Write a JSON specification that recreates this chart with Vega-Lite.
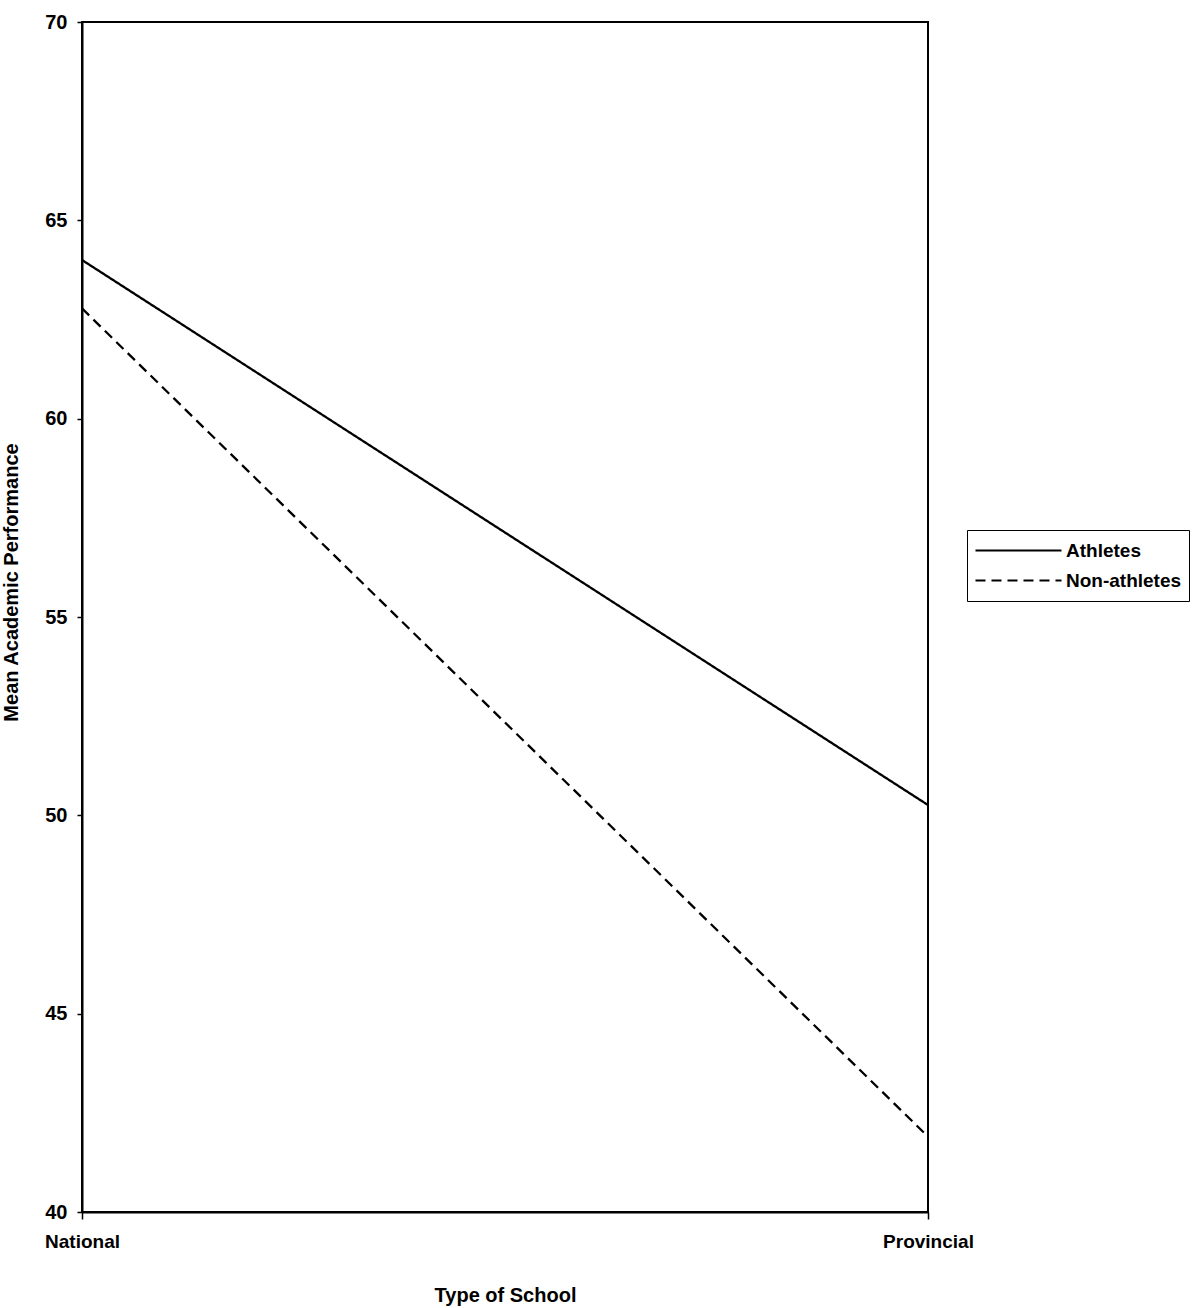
{
  "$schema": "https://vega.github.io/schema/vega-lite/v6.json",
  "autosize": "none",
  "width": 846,
  "height": 1190,
  "padding": {"left": 82, "top": 22, "right": 269, "bottom": 96},
  "background": "white",
  "config": {
    "font": "Liberation Sans",
    "view": {"stroke": "black", "strokeWidth": 2}
  },
  "data": {
    "values": [
      {"school": "National", "group": "Athletes", "mean": 64.0},
      {"school": "Provincial", "group": "Athletes", "mean": 50.26},
      {"school": "National", "group": "Non-athletes", "mean": 62.78},
      {"school": "Provincial", "group": "Non-athletes", "mean": 41.9}
    ]
  },
  "mark": {"type": "line", "color": "black", "strokeWidth": 2.3},
  "encoding": {
    "x": {
      "field": "school",
      "type": "nominal",
      "scale": {"type": "point", "padding": 0},
      "axis": {
        "title": "Type of School",
        "titleFontSize": 20,
        "titleFontWeight": "bold",
        "titleColor": "black",
        "titlePadding": 34,
        "labelAngle": 0,
        "labelFontSize": 19,
        "labelFontWeight": "bold",
        "labelColor": "black",
        "labelPadding": 13,
        "domainColor": "black",
        "domainWidth": 2,
        "tickColor": "black",
        "tickSize": 7,
        "tickWidth": 1.5,
        "grid": false
      }
    },
    "y": {
      "field": "mean",
      "type": "quantitative",
      "scale": {"domain": [40, 70], "nice": false, "zero": false},
      "axis": {
        "title": "Mean Academic Performance",
        "titleFontSize": 20,
        "titleFontWeight": "bold",
        "titleColor": "black",
        "titlePadding": 23,
        "titleY": 560,
        "values": [40, 45, 50, 55, 60, 65, 70],
        "labelFontSize": 20,
        "labelFontWeight": "bold",
        "labelColor": "black",
        "labelPadding": 10,
        "domainColor": "black",
        "domainWidth": 2,
        "tickColor": "black",
        "tickSize": 5,
        "tickWidth": 1.5,
        "grid": false
      }
    },
    "strokeDash": {
      "field": "group",
      "type": "nominal",
      "scale": {"domain": ["Athletes", "Non-athletes"], "range": [[1, 0], [10, 6]]},
      "legend": {
        "title": null,
        "orient": "none",
        "legendX": 885,
        "legendY": 508,
        "symbolType": "stroke",
        "symbolSize": 7400,
        "symbolStrokeColor": "black",
        "symbolStrokeWidth": 2,
        "labelFontSize": 19,
        "labelFontWeight": "bold",
        "labelColor": "black",
        "labelOffset": 3,
        "clipHeight": 27,
        "rowPadding": 3,
        "padding": 7,
        "strokeColor": "black",
        "fillColor": "white"
      }
    }
  }
}
